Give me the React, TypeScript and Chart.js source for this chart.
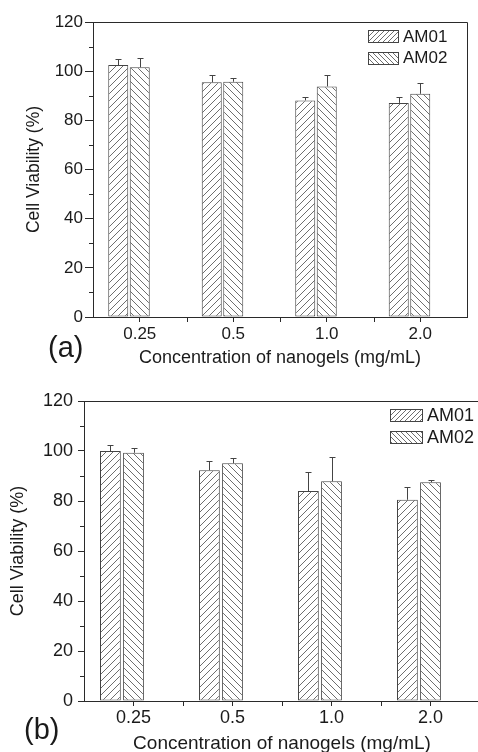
import React, { useEffect, useRef } from 'react';
import { Chart, registerables } from 'chart.js';
Chart.register(...registerables);

// ---------- data ----------
const categories = ['0.25', '0.5', '1.0', '2.0'];
const seriesNames = ['AM01', 'AM02'];
const yTicks = [0, 20, 40, 60, 80, 100, 120];
const yMinorTicks = [10, 30, 50, 70, 90, 110];

const am01A = [102.5, 95.5, 88.1, 87.1];
const am01ErrA = [2.3, 3.0, 1.5, 2.5];
const am02A = [101.6, 95.7, 93.8, 90.8];
const am02ErrA = [3.6, 1.4, 4.5, 4.2];

const am01B = [100.0, 92.3, 84.0, 80.5];
const am01ErrB = [2.4, 3.6, 7.6, 5.2];
const am02B = [99.3, 95.1, 87.9, 87.5];
const am02ErrB = [1.8, 2.1, 9.7, 0.9];

const xTitle = 'Concentration of nanogels (mg/mL)';
const yTitle = 'Cell Viability (%)';

const INK = '#2a2a2a';
const HATCH = '#6e6e6e';
const FONT = '"Liberation Sans", Arial, sans-serif';

function makeHatch(ctx: CanvasRenderingContext2D, dir: number, s: number) {
  const c = document.createElement('canvas');
  c.width = s;
  c.height = s;
  const g = c.getContext('2d')!;
  g.fillStyle = '#ffffff';
  g.fillRect(0, 0, s, s);
  g.strokeStyle = HATCH;
  g.lineWidth = 1;
  g.beginPath();
  if (dir > 0) {
    g.moveTo(0, s); g.lineTo(s, 0);
    g.moveTo(-2, 2); g.lineTo(2, -2);
    g.moveTo(s - 2, s + 2); g.lineTo(s + 2, s - 2);
  } else {
    g.moveTo(0, 0); g.lineTo(s, s);
    g.moveTo(s - 2, -2); g.lineTo(s + 2, 2);
    g.moveTo(-2, s - 2); g.lineTo(2, s + 2);
  }
  g.stroke();
  return ctx.createPattern(c, 'repeat')!;
}

type Layout = {
  width: number; height: number; top: number;
  padRight: number; padTop: number;
  yAxisW: number; xAxisH: number;
  tickFont: number; yTickPad: number; yTickLen: number;
  xTickLen: number; xTickPad: number;
  xTitleFont: number; xTitlePadB: number;
  yTitleFont: number; yTitlePadT: number;
  catPct: number; barPct: number;
  legX: number; legW: number; legH: number; legY: number[]; legFont: number; legTextX: number;
  tag: string; tagX: number; tagY: number; tagFont: number;
};

function Panel({ v1, e1, v2, e2, L }: { v1: number[]; e1: number[]; v2: number[]; e2: number[]; L: Layout }) {
  const ref = useRef<HTMLCanvasElement>(null);
  useEffect(() => {
    const canvas = ref.current!;
    const c2d = canvas.getContext('2d')!;
    const pat1 = makeHatch(c2d, 1, 7);
    const pat2 = makeHatch(c2d, -1, 7);
    const legPat1 = makeHatch(c2d, 1, 5);
    const legPat2 = makeHatch(c2d, -1, 5);
    const errs = [e1, e2];

    const decor = {
      id: 'decor',
      afterDatasetsDraw(chart: any) {
        const { ctx, chartArea: ca, scales } = chart;
        const x = scales.x;
        const y = scales.y;
        ctx.save();
        ctx.strokeStyle = INK;
        ctx.lineWidth = 1;
        // frame: top and right
        ctx.beginPath();
        ctx.moveTo(ca.left, Math.round(ca.top) + 0.5);
        ctx.lineTo(Math.round(ca.right) + 0.5, Math.round(ca.top) + 0.5);
        ctx.lineTo(Math.round(ca.right) + 0.5, ca.bottom);
        ctx.stroke();
        // error bars (upper half)
        ctx.strokeStyle = '#444';
        [0, 1].forEach((di) => {
          const meta = chart.getDatasetMeta(di);
          const vals = chart.data.datasets[di].data as number[];
          meta.data.forEach((el: any, i: number) => {
            const yTop = Math.round(y.getPixelForValue(vals[i] + errs[di][i])) + 0.5;
            const xc = Math.round(el.x) + 0.5;
            ctx.beginPath();
            ctx.moveTo(xc, el.y);
            ctx.lineTo(xc, yTop);
            ctx.moveTo(xc - 3, yTop);
            ctx.lineTo(xc + 3, yTop);
            ctx.stroke();
          });
        });
        // minor y ticks
        ctx.strokeStyle = INK;
        yMinorTicks.forEach((v) => {
          const py = Math.round(y.getPixelForValue(v)) + 0.5;
          ctx.beginPath();
          ctx.moveTo(ca.left - 4, py);
          ctx.lineTo(ca.left, py);
          ctx.stroke();
        });
        // x ticks at category boundaries
        for (let i = 0; i < categories.length - 1; i++) {
          const px = Math.round((x.getPixelForTick(i) + x.getPixelForTick(i + 1)) / 2) + 0.5;
          ctx.beginPath();
          ctx.moveTo(px, ca.bottom);
          ctx.lineTo(px, ca.bottom + L.xTickLen);
          ctx.stroke();
        }
        // legend
        ctx.font = `${L.legFont}px ${FONT}`;
        ctx.textBaseline = 'middle';
        ctx.textAlign = 'left';
        [legPat1, legPat2].forEach((p, i) => {
          const cy = L.legY[i];
          const top = Math.round(cy - L.legH / 2) + 0.5;
          ctx.fillStyle = p;
          ctx.fillRect(L.legX + 0.5, top, L.legW, L.legH);
          ctx.strokeStyle = '#444';
          ctx.strokeRect(L.legX + 0.5, top, L.legW, L.legH);
          ctx.fillStyle = '#1a1a1a';
          ctx.fillText(chart.data.datasets[i].label, L.legTextX, cy + 1);
        });
        // panel tag
        ctx.font = `${L.tagFont}px ${FONT}`;
        ctx.fillStyle = '#1a1a1a';
        ctx.fillText(L.tag, L.tagX, L.tagY);
        ctx.restore();
      },
    };

    const chart = new Chart(canvas, {
      type: 'bar',
      data: {
        labels: categories,
        datasets: [
          { label: seriesNames[0], data: v1, backgroundColor: pat1, borderColor: '#444', borderWidth: 1, borderSkipped: false },
          { label: seriesNames[1], data: v2, backgroundColor: pat2, borderColor: '#444', borderWidth: 1, borderSkipped: false },
          { label: '', data: categories.map(() => null), backgroundColor: 'rgba(0,0,0,0)', borderWidth: 0 },
        ],
      },
      options: {
        responsive: false,
        devicePixelRatio: 1,
        animation: false,
        events: [],
        layout: { padding: { left: 0, right: L.padRight, top: L.padTop, bottom: 0 } },
        datasets: { bar: { categoryPercentage: L.catPct, barPercentage: L.barPct } },
        plugins: { legend: { display: false }, tooltip: { enabled: false }, title: { display: false } },
        scales: {
          x: {
            type: 'category',
            offset: true,
            grid: { display: true, drawOnChartArea: false, drawTicks: true, tickLength: L.xTickLen, offset: false, color: INK, tickColor: INK },
            border: { display: true, color: INK, width: 1 },
            ticks: { color: '#1a1a1a', font: { family: FONT, size: L.tickFont }, maxRotation: 0, padding: L.xTickPad },
            title: { display: true, text: xTitle, color: '#1a1a1a', font: { family: FONT, size: L.xTitleFont }, padding: { top: 0, bottom: L.xTitlePadB } },
            afterFit: (s: any) => { s.height = L.xAxisH; },
          },
          y: {
            min: 0,
            max: 120,
            afterBuildTicks: (s: any) => { s.ticks = yTicks.map((v) => ({ value: v })); },
            grid: { display: true, drawOnChartArea: false, drawTicks: true, tickLength: L.yTickLen, color: INK, tickColor: INK },
            border: { display: true, color: INK, width: 1 },
            ticks: { color: '#1a1a1a', font: { family: FONT, size: L.tickFont }, padding: L.yTickPad },
            title: { display: true, text: yTitle, color: '#1a1a1a', font: { family: FONT, size: L.yTitleFont }, padding: { top: L.yTitlePadT, bottom: 0 } },
            afterFit: (s: any) => { s.width = L.yAxisW; },
          },
        },
      },
      plugins: [decor],
    } as any);
    return () => chart.destroy();
  }, []);
  return (
    <canvas
      ref={ref}
      width={L.width}
      height={L.height}
      style={{ position: 'absolute', left: 0, top: L.top, width: L.width, height: L.height, display: 'block' }}
    />
  );
}

const layoutA: Layout = {
  width: 478, height: 376, top: 0,
  padRight: 11, padTop: 22,
  yAxisW: 93, xAxisH: 59,
  tickFont: 17, yTickPad: 2, yTickLen: 8,
  xTickLen: 5, xTickPad: 2,
  xTitleFont: 18, xTitlePadB: 7,
  yTitleFont: 17.5, yTitlePadT: 24,
  catPct: 0.69, barPct: 0.93,
  legX: 368, legW: 30, legH: 12, legY: [36, 57.5], legFont: 17, legTextX: 403,
  tag: '(a)', tagX: 48, tagY: 349, tagFont: 29,
};

const layoutB: Layout = {
  width: 490, height: 380, top: 376,
  padRight: 10, padTop: 25,
  yAxisW: 84, xAxisH: 55,
  tickFont: 18, yTickPad: 5, yTickLen: 6,
  xTickLen: 5, xTickPad: 1,
  xTitleFont: 19, xTitlePadB: 1,
  yTitleFont: 18, yTitlePadT: 7,
  catPct: 0.7, barPct: 0.9,
  legX: 390, legW: 32, legH: 12, legY: [39, 61], legFont: 18, legTextX: 427,
  tag: '(b)', tagX: 24, tagY: 355, tagFont: 29,
};

export default function App() {
  return (
    <div style={{ position: 'absolute', left: 0, top: 0, width: 478, height: 752, overflow: 'hidden', background: '#ffffff' }}>
      <Panel v1={am01A} e1={am01ErrA} v2={am02A} e2={am02ErrA} L={layoutA} />
      <Panel v1={am01B} e1={am01ErrB} v2={am02B} e2={am02ErrB} L={layoutB} />
    </div>
  );
}
